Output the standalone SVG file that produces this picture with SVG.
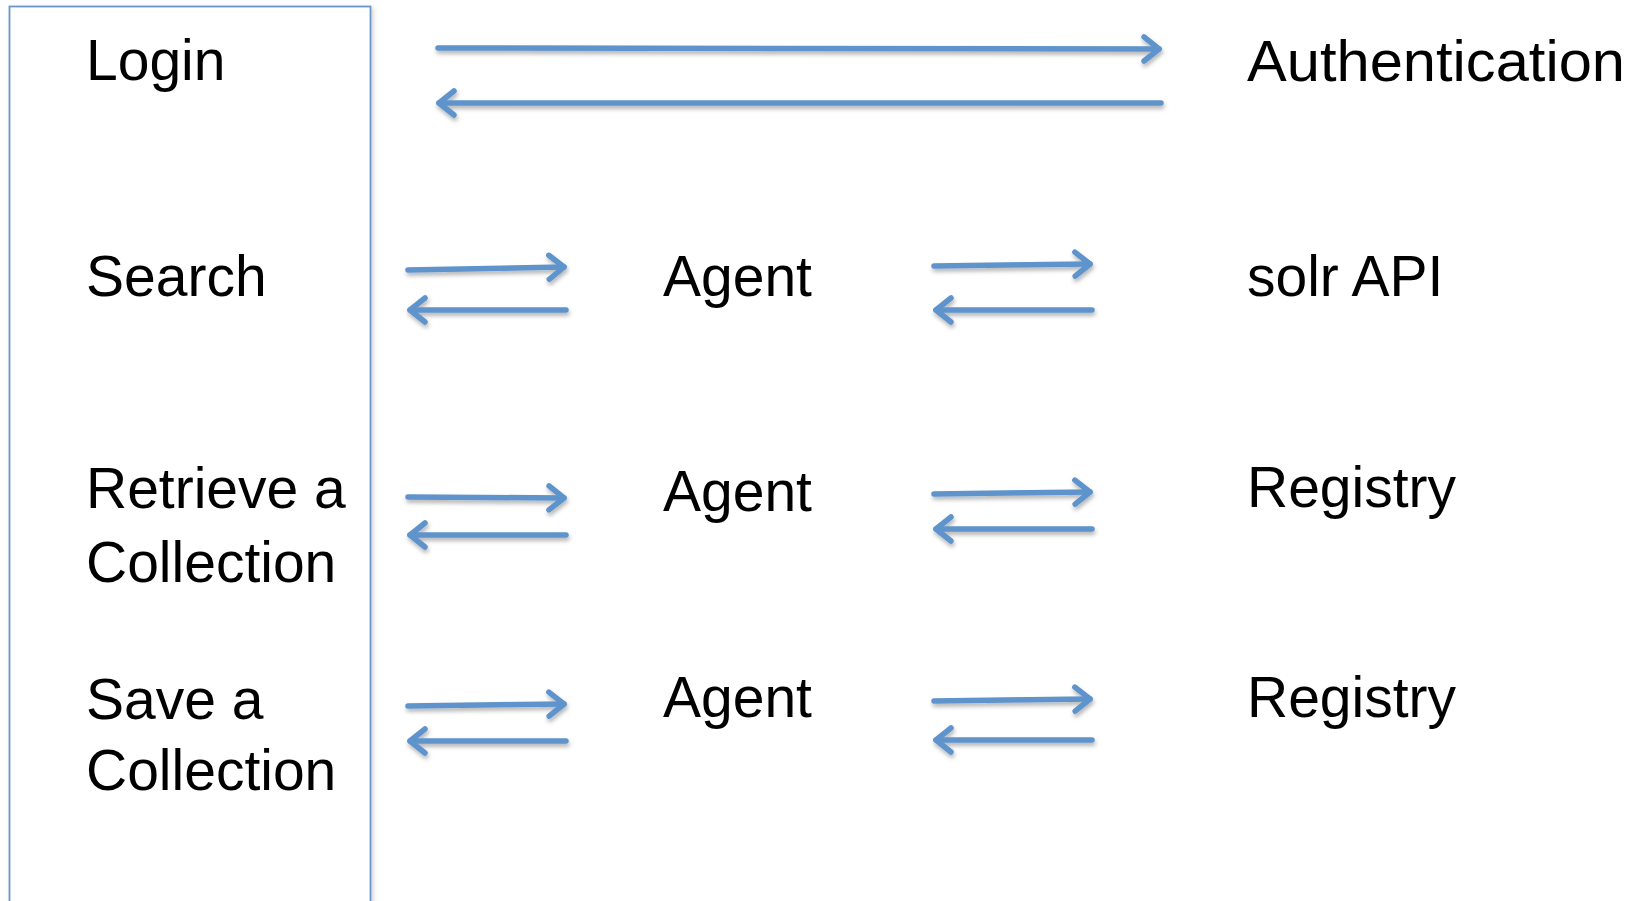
<svg xmlns="http://www.w3.org/2000/svg" width="1650" height="901" viewBox="0 0 1650 901">
  <style>
    .label { font-family: "Liberation Sans", Arial, sans-serif; font-size: 57px; fill: #000000; }
    .flow { fill: none; stroke: #5f93cb; stroke-width: 5.5; stroke-linecap: round; marker-end: url(#chevron); }
    .frame { fill: #ffffff; stroke: #6b97cc; stroke-width: 1.8; }
  </style>
  <defs>
    <marker id="chevron" markerUnits="userSpaceOnUse" viewBox="-20 -15 24 30" refX="0" refY="0" markerWidth="24" markerHeight="30" orient="auto" overflow="visible">
      <path d="M -15 -12 L 0 0 L -15 12" fill="none" stroke="#5f93cb" stroke-width="5.5" stroke-linecap="round" stroke-linejoin="round"/>
    </marker>
    <filter id="soft-shadow" x="-5%" y="-50%" width="110%" height="200%">
      <feDropShadow dx="1" dy="3" stdDeviation="2" flood-color="#000000" flood-opacity="0.3"/>
    </filter>
    <filter id="frame-shadow" x="-5%" y="-5%" width="110%" height="110%">
      <feDropShadow dx="2" dy="2" stdDeviation="2" flood-color="#000000" flood-opacity="0.18"/>
    </filter>
  </defs>

  <rect width="1650" height="901" fill="#ffffff"/>

  <!-- client panel holding the four user actions -->
  <g id="client">
    <rect class="frame" x="9.5" y="6.5" width="361" height="920" filter="url(#frame-shadow)"/>
  </g>

  <g id="login"><text class="label" x="86" y="80">Login</text></g>
  <g id="search"><text class="label" x="86" y="296">Search</text></g>
  <g id="retrieve">
    <text class="label" x="86" y="508">Retrieve a</text>
    <text class="label" x="86" y="582">Collection</text>
  </g>
  <g id="save">
    <text class="label" x="86" y="719">Save a</text>
    <text class="label" x="86" y="790">Collection</text>
  </g>

  <g id="authentication"><text class="label" x="1247" y="81" textLength="378" lengthAdjust="spacingAndGlyphs">Authentication</text></g>

  <g id="agent-search"><text class="label" x="663" y="296">Agent</text></g>
  <g id="agent-retrieve"><text class="label" x="663" y="511">Agent</text></g>
  <g id="agent-save"><text class="label" x="663" y="717">Agent</text></g>

  <g id="solr-api"><text class="label" x="1247" y="296">solr API</text></g>
  <g id="registry-retrieve"><text class="label" x="1247" y="507">Registry</text></g>
  <g id="registry-save"><text class="label" x="1247" y="717">Registry</text></g>

  <!-- request / response pairs -->
  <g id="connectors" filter="url(#soft-shadow)">
    <path class="flow" d="M 438 48 L 1159 49"/>
    <path class="flow" d="M 1161 103 L 439 103"/>

    <path class="flow" d="M 408 270 L 564 267"/>
    <path class="flow" d="M 566 310 L 410 310"/>
    <path class="flow" d="M 934 266 L 1090 264"/>
    <path class="flow" d="M 1092 310 L 936 310"/>

    <path class="flow" d="M 408 497 L 564 498"/>
    <path class="flow" d="M 566 535 L 410 535"/>
    <path class="flow" d="M 934 494 L 1090 492"/>
    <path class="flow" d="M 1092 529 L 936 529"/>

    <path class="flow" d="M 408 706 L 564 704"/>
    <path class="flow" d="M 566 741 L 410 741"/>
    <path class="flow" d="M 934 701 L 1090 699"/>
    <path class="flow" d="M 1092 740 L 936 740"/>
  </g>
</svg>
